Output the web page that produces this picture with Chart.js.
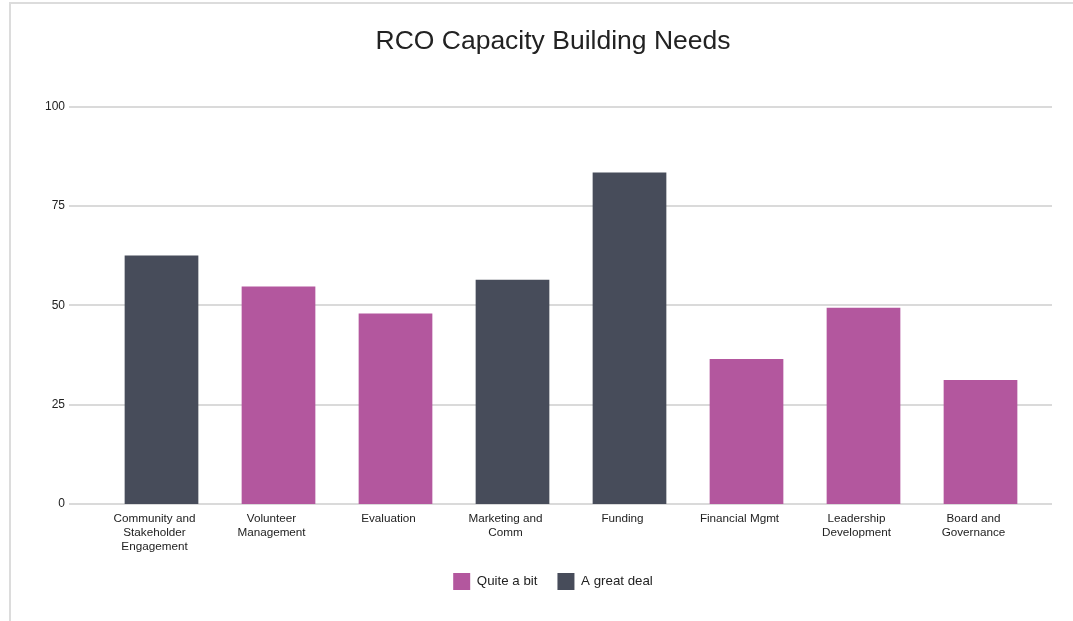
<!DOCTYPE html>
<html>
<head>
<meta charset="utf-8">
<script src="https://cdn.jsdelivr.net/npm/chart.js@4.4.1/dist/chart.umd.min.js"></script>
<style>
  html, body { margin: 0; padding: 0; background: #fff; overflow: hidden; }
  #frame {
    position: absolute; left: 9px; top: 2px;
    width: 1100px; height: 700px;
    border: 2px solid #dcdcdc; background: #fff;
  }
  #chart { display: block; }
</style>
</head>
<body>
<div id="frame"><canvas id="chart" width="1084" height="640"></canvas></div>
<script>
// Values.
const categories = [
  ['Community and', 'Stakeholder', 'Engagement'],
  ['Volunteer', 'Management'],
  'Evaluation',
  ['Marketing and', 'Comm'],
  'Funding',
  'Financial Mgmt',
  ['Leadership', 'Development'],
  ['Board and', 'Governance'],
];
const quiteABit  = [null, 54.7, 47.9, null, null, 36.5, 49.4, 31.2];
const greatDeal  = [62.5, null, null, 56.4, 83.4, null, null, null];
const yTicks     = [0, 25, 50, 75, 100];

const COLORS = {
  purple: '#b3579e',
  slate:  '#474c5a',
  grid:   '#dadada',
  text:   '#222222',
};
const FONT = '"Liberation Sans", Arial, sans-serif';

// horizontal grid lines that run a little past the plot area, like the original
const wideGrid = {
  id: 'wideGrid',
  beforeDatasetsDraw(chart) {
    const { ctx, chartArea, scales } = chart;
    ctx.save();
    ctx.strokeStyle = COLORS.grid;
    ctx.lineWidth = 2;
    for (const v of yTicks) {
      const y = Math.round(scales.y.getPixelForValue(v));
      ctx.beginPath();
      ctx.moveTo(chartArea.left - 34, y);
      ctx.lineTo(chartArea.right + 13, y);
      ctx.stroke();
    }
    ctx.restore();
  },
};

new Chart(document.getElementById('chart'), {
  type: 'bar',
  data: {
    labels: categories,
    datasets: [
      { label: 'Quite a bit', data: quiteABit, backgroundColor: COLORS.purple },
      { label: 'A great deal', data: greatDeal, backgroundColor: COLORS.slate },
    ],
  },
  options: {
    responsive: false,
    animation: false,
    devicePixelRatio: 1,
    layout: { padding: { left: 20, right: 20, top: 0, bottom: 44 } },
    datasets: { bar: { categoryPercentage: 1, barPercentage: 0.63, borderWidth: 0 } },
    plugins: {
      title: {
        display: true,
        text: 'RCO Capacity Building Needs',
        color: COLORS.text,
        font: { family: FONT, size: 26.5, weight: 'normal' },
        padding: { top: 22, bottom: 48.7 },
      },
      legend: {
        position: 'bottom',
        labels: {
          color: COLORS.text,
          font: { family: FONT, size: 13.3 },
          boxWidth: 17, boxHeight: 17,
          padding: 20,
        },
      },
      tooltip: { enabled: false },
    },
    scales: {
      x: {
        stacked: true,
        grid: { display: false, drawTicks: false },
        border: { display: false },
        ticks: {
          color: COLORS.text,
          font: { family: FONT, size: 11.7, lineHeight: 1.2 },
          maxRotation: 0, autoSkip: false, padding: 8, labelOffset: -7,
        },
        afterFit(scale) { scale.height = 49; },
      },
      y: {
        stacked: true,
        min: 0, max: 100,
        grid: { display: false, drawTicks: false },
        border: { display: false },
        ticks: {
          stepSize: 25,
          color: COLORS.text,
          font: { family: FONT, size: 12 },
          padding: 38,
        },
        afterFit(scale) { scale.width = 72; },
      },
      // empty spacer on the right so the plot ends where the original does
      spacer: {
        position: 'right',
        display: true,
        grid: { display: false, drawTicks: false },
        border: { display: false },
        ticks: { display: false },
        afterFit(scale) { scale.width = 36; },
      },
    },
  },
  plugins: [wideGrid],
});
</script>
</body>
</html>
